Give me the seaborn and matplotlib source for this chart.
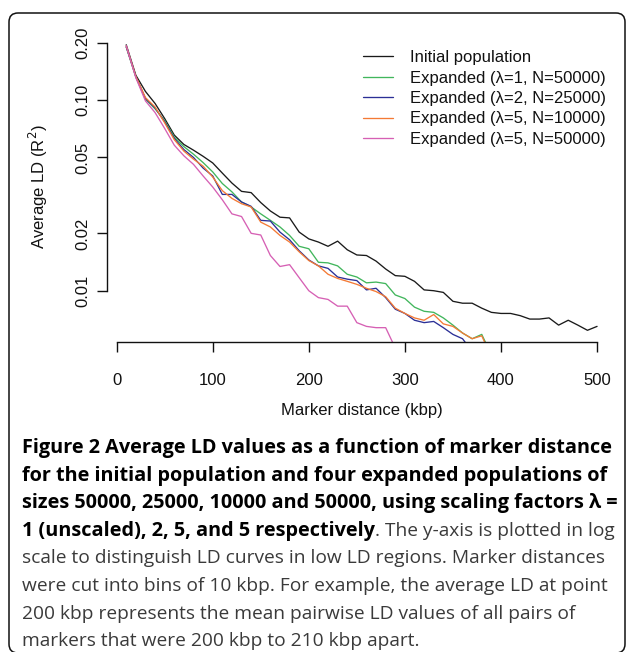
import matplotlib
matplotlib.use("Agg")
import matplotlib.pyplot as plt
from matplotlib.patches import FancyBboxPatch
from matplotlib.ticker import NullLocator, FixedLocator
import seaborn as sns
import pandas as pd

# ---------------- data ----------------
distance_kbp = [10, 20, 30, 40, 50, 60, 70, 80, 90, 100,
                110, 120, 130, 140, 150, 160, 170, 180, 190, 200,
                210, 220, 230, 240, 250, 260, 270, 280, 290, 300,
                310, 320, 330, 340, 350, 360, 370, 380, 390, 400,
                410, 420, 430, 440, 450, 460, 470, 480, 490, 500]

ld_initial = [0.195, 0.135, 0.111, 0.096, 0.080, 0.0655, 0.0585, 0.0546, 0.0507, 0.0468,
              0.0414, 0.0367, 0.0332, 0.0327, 0.0290, 0.0262, 0.0243, 0.0241, 0.0203, 0.0187,
              0.0180, 0.0171, 0.0182, 0.0164, 0.0154, 0.0153, 0.0143, 0.0130, 0.0120, 0.0119,
              0.0112, 0.0101, 0.0100, 0.0098, 0.0088, 0.0086, 0.0086, 0.0081, 0.0077, 0.0076,
              0.0076, 0.0074, 0.0071, 0.0071, 0.0072, 0.0066, 0.0070, 0.0066, 0.0062, 0.0065]

ld_l1_n50000 = [0.190, 0.132, 0.101, 0.090, 0.078, 0.064, 0.057, 0.052, 0.047, 0.042,
                0.0365, 0.033, 0.0292, 0.0275, 0.0253, 0.0234, 0.0216, 0.0195, 0.0171, 0.0166,
                0.0141, 0.0140, 0.0135, 0.0122, 0.0118, 0.0110, 0.0111, 0.0109, 0.0095, 0.0091,
                0.0082, 0.0078, 0.0077, 0.0072, 0.0066, 0.0060, 0.0056, 0.0059, 0.0046]

ld_l2_n25000 = [0.190, 0.133, 0.102, 0.091, 0.077, 0.063, 0.055, 0.050, 0.044, 0.040,
                0.032, 0.032, 0.0292, 0.0277, 0.0234, 0.0232, 0.0203, 0.0185, 0.0162, 0.0145,
                0.0135, 0.0131, 0.0118, 0.0115, 0.0113, 0.0101, 0.0103, 0.0092, 0.0080, 0.0076,
                0.0070, 0.0068, 0.0069, 0.0064, 0.0059, 0.0056, 0.0048]

ld_l5_n10000 = [0.192, 0.133, 0.103, 0.092, 0.076, 0.062, 0.054, 0.049, 0.045, 0.0395,
                0.0335, 0.0305, 0.0286, 0.0275, 0.0229, 0.0216, 0.0195, 0.0180, 0.0160, 0.0144,
                0.0135, 0.0122, 0.0116, 0.0112, 0.0108, 0.0103, 0.0099, 0.0093, 0.0081, 0.0076,
                0.0072, 0.0070, 0.0075, 0.0067, 0.0065, 0.0060, 0.0056, 0.0058, 0.0045]

ld_l5_n50000 = [0.193, 0.131, 0.099, 0.086, 0.071, 0.058, 0.051, 0.046, 0.040, 0.035,
                0.030, 0.0253, 0.0245, 0.0200, 0.0196, 0.0153, 0.0134, 0.0137, 0.0117, 0.0100,
                0.0092, 0.0090, 0.0083, 0.0083, 0.0068, 0.0065, 0.0064, 0.0064, 0.0050]

series_labels = ["Initial population",
                 "Expanded (\u03bb=1, N=50000)",
                 "Expanded (\u03bb=2, N=25000)",
                 "Expanded (\u03bb=5, N=10000)",
                 "Expanded (\u03bb=5, N=50000)"]
series_values = [ld_initial, ld_l1_n50000, ld_l2_n25000, ld_l5_n10000, ld_l5_n50000]
series_colors = ["#1a1a1a", "#41b65c", "#2b2f96", "#f47a35", "#d660b4"]

x_ticks = [0, 100, 200, 300, 400, 500]
y_ticks = [0.01, 0.02, 0.05, 0.10, 0.20]
y_tick_labels = ["0.01", "0.02", "0.05", "0.10", "0.20"]

caption_lines = [
    [("Figure 2 Average LD values as a function of marker distance", "bold")],
    [("for the initial population and four expanded populations of", "bold")],
    [("sizes 50000, 25000, 10000 and 50000, using scaling factors \u03bb =", "bold")],
    [("1 (unscaled), 2, 5, and 5 respectively", "bold"), (". The y-axis is plotted in log", "normal")],
    [("scale to distinguish LD curves in low LD regions. Marker distances", "normal")],
    [("were cut into bins of 10 kbp. For example, the average LD at point", "normal")],
    [("200 kbp represents the mean pairwise LD values of all pairs of", "normal")],
    [("markers that were 200 kbp to 210 kbp apart.", "normal")],
]

# ---------------- figure ----------------
sns.set_style("white")
plt.rcParams["font.family"] = ["Liberation Sans", "DejaVu Sans"]

W, H = 627, 652
fig = plt.figure(figsize=(W / 100, H / 100), dpi=100)
fig.patch.set_facecolor("white")

# background overlay in pixel coordinates (frame + caption)
bg = fig.add_axes([0, 0, 1, 1], zorder=-1)
bg.set_xlim(0, W)
bg.set_ylim(H, 0)
bg.axis("off")
frame = FancyBboxPatch((9, 13), 616, 640, boxstyle="round,pad=0,rounding_size=9",
                       fill=False, edgecolor="#111111", linewidth=1.1, clip_on=False)
bg.add_patch(frame)

# plot axes
ax_left, ax_right, ax_top, ax_bottom = 107.4, 615.9, 31.2, 342.0
ax = fig.add_axes([ax_left / W, 1 - ax_bottom / H, (ax_right - ax_left) / W,
                   (ax_bottom - ax_top) / H])
ax.set_facecolor("none")

rows = []
for lab, vals in zip(series_labels, series_values):
    for d, v in zip(distance_kbp, vals):
        rows.append({"distance": d, "ld": v, "series": lab})
df = pd.DataFrame(rows)

for lab, col in zip(series_labels, series_colors):
    sub = df[df["series"] == lab]
    sns.lineplot(data=sub, x="distance", y="ld", color=col, linewidth=0.95,
                 ax=ax, label=lab, estimator=None)

ax.set_yscale("log")
ax.set_xlim(-9.6, 519.6)
ax.set_ylim(10 ** -2.269, 10 ** -0.6387)

for s in ["top", "right"]:
    ax.spines[s].set_visible(False)
for s in ["left", "bottom"]:
    ax.spines[s].set_linewidth(1.0)
    ax.spines[s].set_color("#111111")
ax.spines["bottom"].set_bounds(0, 500)
ax.spines["left"].set_bounds(0.01, 0.2)

ax.xaxis.set_major_locator(FixedLocator(x_ticks))
ax.set_xticklabels([str(t) for t in x_ticks])
ax.yaxis.set_major_locator(FixedLocator(y_ticks))
ax.yaxis.set_minor_locator(NullLocator())
ax.set_yticklabels(y_tick_labels, rotation=90, va="center")
ax.tick_params(axis="both", which="major", bottom=True, left=True, direction="out",
               length=7, width=1.0, color="#111111", labelsize=12, labelcolor="#111111")
ax.tick_params(axis="x", pad=15)
ax.tick_params(axis="y", pad=5)

ax.set_xlabel("Marker distance (kbp)", fontsize=12, color="#111111")
ax.set_ylabel("Average LD (R$^2$)", fontsize=12, color="#111111")
ax.xaxis.label.set_va("center")
ax.yaxis.label.set_va("center")
ax.xaxis.set_label_coords(0.5, (ax_bottom - 410) / (ax_bottom - ax_top))
ax.yaxis.set_label_coords((38 - ax_left) / (ax_right - ax_left), 0.5)

handles, labels = ax.get_legend_handles_labels()
leg = ax.legend(handles, labels, loc="upper left",
                bbox_to_anchor=(363 / W, 1 - 50 / H), bbox_transform=fig.transFigure,
                frameon=False, fontsize=12, handlelength=1.8, handletextpad=1.0,
                borderpad=0, borderaxespad=0, labelspacing=0.33)
for t in leg.get_texts():
    t.set_color("#111111")

# ---------------- caption ----------------
cap_family = ["Open Sans", "DejaVu Sans"]
renderer = fig.canvas.get_renderer()


def fit_size(text, weight, target_width):
    probe = bg.text(0, 0, text, fontsize=12, fontweight=weight, family=cap_family)
    w = probe.get_window_extent(renderer).width
    probe.remove()
    return 12 * target_width / w


bold_size = min(fit_size(caption_lines[0][0][0], "bold", 598),
                fit_size(caption_lines[2][0][0], "bold", 594))
reg_size = min(fit_size(caption_lines[4][0][0], "normal", 583),
               fit_size(caption_lines[5][0][0], "normal", 582))

y0, dy = 448, 27.6
for i, parts in enumerate(caption_lines):
    x = 22
    y = y0 + i * dy
    for txt, weight in parts:
        if weight == "bold":
            color, size = "#000000", bold_size
        else:
            color, size = "#3a3a3a", reg_size
        t = bg.text(x, y, txt, fontsize=size, fontweight=weight,
                    family=cap_family, va="center", ha="left", color=color)
        x = t.get_window_extent(renderer).x1

fig.savefig("out.png", dpi=100)
